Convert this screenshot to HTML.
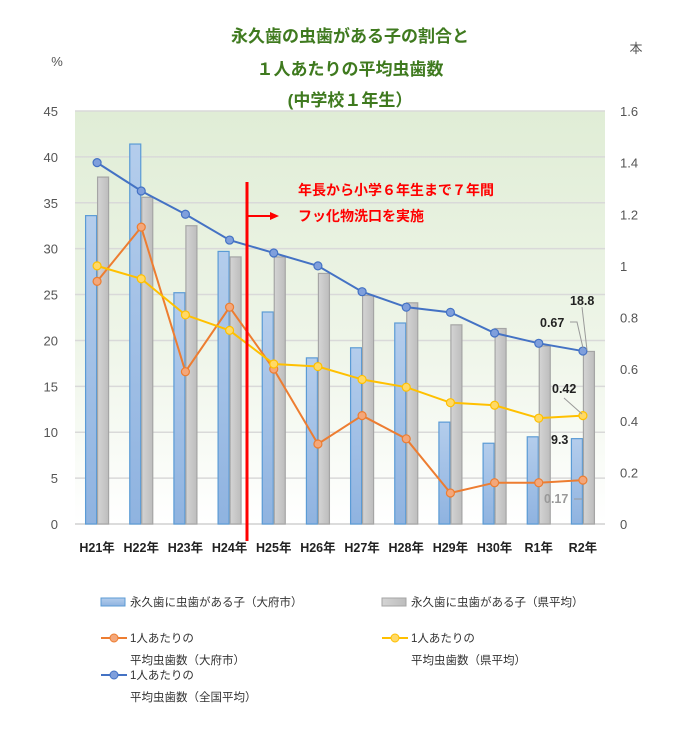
<!DOCTYPE html>
<html><head><meta charset="utf-8">
<style>
body{margin:0;background:#fff;}
svg text{font-family:"Liberation Sans","Noto Sans CJK JP",sans-serif;}
</style></head>
<body>
<svg id="chart" width="690" height="750" xmlns="http://www.w3.org/2000/svg">
<defs>
<linearGradient id="bg" x1="0" y1="0" x2="0" y2="1">
<stop offset="0" stop-color="#e0edd6"/><stop offset="0.55" stop-color="#eef5e8"/><stop offset="1" stop-color="#ffffff"/>
</linearGradient>
<linearGradient id="gb" x1="0" y1="0" x2="0" y2="1"><stop offset="0" stop-color="#b4cdec"/><stop offset="1" stop-color="#8fb3e0"/></linearGradient>
<linearGradient id="gg" x1="0" y1="0" x2="1" y2="0"><stop offset="0" stop-color="#d4d4d4"/><stop offset="1" stop-color="#bdbdbd"/></linearGradient>
</defs>
<rect x="75" y="111" width="530" height="413" fill="url(#bg)"/>
<g id="grid"></g>
<g id="bars"></g>
<g id="lines"></g>
<g id="axes"></g>
<text x="350" y="42" text-anchor="middle" font-size="17" font-weight="bold" fill="#3f7a1f">永久歯の虫歯がある子の割合と</text>
<text x="350" y="75" text-anchor="middle" font-size="17" font-weight="bold" fill="#3f7a1f">１人あたりの平均虫歯数</text>
<text x="350" y="106" text-anchor="middle" font-size="17" font-weight="bold" fill="#3f7a1f">(中学校１年生）</text>
<text x="57" y="66" text-anchor="middle" font-size="13" fill="#555">%</text>
<text x="636" y="53" text-anchor="middle" font-size="13" fill="#555">本</text>
<line x1="247" y1="182" x2="247" y2="541" stroke="#ff0000" stroke-width="3"/>
<line x1="248" y1="216" x2="272" y2="216" stroke="#ff0000" stroke-width="2"/>
<polygon points="279,216 270,212 270,220" fill="#ff0000"/>
<text x="298" y="195" font-size="14" font-weight="bold" fill="#ff0000">年長から小学６年生まで７年間</text>
<text x="298" y="221" font-size="14" font-weight="bold" fill="#ff0000">フッ化物洗口を実施</text>
<g id="labels"></g>
<g font-size="11.5" fill="#333">
<rect x="101" y="598" width="24" height="8" fill="url(#gb)" stroke="#5b9bd5"/>
<text x="130" y="606">永久歯に虫歯がある子（大府市）</text>
<rect x="382" y="598" width="24" height="8" fill="url(#gg)" stroke="#a5a5a5"/>
<text x="411" y="606">永久歯に虫歯がある子（県平均）</text>
<line x1="101" y1="638" x2="127" y2="638" stroke="#ed7d31" stroke-width="2"/><circle cx="114" cy="638" r="4" fill="#f4a77a" stroke="#ed7d31"/>
<text x="130" y="642">1人あたりの</text>
<text x="130" y="664">平均虫歯数（大府市）</text>
<line x1="382" y1="638" x2="408" y2="638" stroke="#ffc000" stroke-width="2"/><circle cx="395" cy="638" r="4" fill="#ffd966" stroke="#ffc000"/>
<text x="411" y="642">1人あたりの</text>
<text x="411" y="664">平均虫歯数（県平均）</text>
<line x1="101" y1="675" x2="127" y2="675" stroke="#4472c4" stroke-width="2"/><circle cx="114" cy="675" r="4" fill="#7f9fdc" stroke="#4472c4"/>
<text x="130" y="679">1人あたりの</text>
<text x="130" y="701">平均虫歯数（全国平均）</text>
</g>
</svg>
<script>
const categories=["H21年","H22年","H23年","H24年","H25年","H26年","H27年","H28年","H29年","H30年","R1年","R2年"];
const barObu=[33.6,41.4,25.2,29.7,23.1,18.1,19.2,21.9,11.1,8.8,9.5,9.3];
const barPref=[37.8,35.6,32.5,29.1,29.1,27.3,24.9,24.1,21.7,21.3,19.4,18.8];
const lineObu=[0.94,1.15,0.59,0.84,0.60,0.31,0.42,0.33,0.12,0.16,0.16,0.17];
const linePref=[1.00,0.95,0.81,0.75,0.62,0.61,0.56,0.53,0.47,0.46,0.41,0.42];
const lineNational=[1.40,1.29,1.20,1.10,1.05,1.00,0.90,0.84,0.82,0.74,0.70,0.67];
const leftTicks=[0,5,10,15,20,25,30,35,40,45];
const rightTicks=["0","0.2","0.4","0.6","0.8","1","1.2","1.4","1.6"];
const NS="http://www.w3.org/2000/svg";
const X0=75,X1=605,Y0=524,Y1=111;
const band=(X1-X0)/categories.length;
function xc(i){return X0+band*(i+0.5);}
function yL(v){return Y0-(v/45)*(Y0-Y1);}
function yR(v){return Y0-(v/1.6)*(Y0-Y1);}
function mk(tag,attrs,parent){const e=document.createElementNS(NS,tag);for(const k in attrs)e.setAttribute(k,attrs[k]);parent.appendChild(e);return e;}
const grid=document.getElementById('grid'),axes=document.getElementById('axes'),bars=document.getElementById('bars'),lines=document.getElementById('lines'),labels=document.getElementById('labels');
leftTicks.forEach(t=>{
  const g=mk('line',{x1:X0,x2:X1,y1:yL(t),y2:yL(t),stroke:t===0?'#d0d0d0':'#d9d9d9','stroke-width':1.5},grid);
  
  
  const tx=mk('text',{x:58,y:yL(t)+5,'text-anchor':'end','font-size':13,fill:'#555'},axes);
  tx.textContent=t;
  
  
});
rightTicks.forEach(t=>{
  const tx=mk('text',{x:620,y:yR(parseFloat(t))+5,'font-size':13,fill:'#555'},axes);
  tx.textContent=t;
  
  
});
categories.forEach((c,i)=>{
  const tx=mk('text',{x:xc(i),y:552,'text-anchor':'middle','font-size':12.5,'font-weight':'bold',fill:'#222'},axes);
  tx.textContent=c;
  
  
  const w=11;
  const b1=mk('rect',{x:xc(i)-w-0.5,y:yL(barObu[i]),width:w,height:Y0-yL(barObu[i]),fill:'url(#gb)',stroke:'#5b9bd5','stroke-width':1.2},bars);
  
  
  const b2=mk('rect',{x:xc(i)+0.5,y:yL(barPref[i]),width:w,height:Y0-yL(barPref[i]),fill:'url(#gg)',stroke:'#a5a5a5','stroke-width':1.2},bars);
  
  
});
function drawLine(vals,stroke,fill,name){
  const pts=vals.map((v,i)=>xc(i)+','+yR(v)).join(' ');
  const pl=mk('polyline',{points:pts,fill:'none',stroke:stroke,'stroke-width':2},lines);
  
  
  vals.forEach((v,i)=>{
    const c=mk('circle',{cx:xc(i),cy:yR(v),r:4,fill:fill,stroke:stroke,'stroke-width':1.2},lines);
    
    
  });
}
drawLine(lineObu,'#ed7d31','#f4a77a','obu-avg');
drawLine(linePref,'#ffc000','#ffd966','pref-avg');
drawLine(lineNational,'#4472c4','#7f9fdc','national-avg');
const n=categories.length-1;
function lab(txt,x,y,color,name){const t=mk('text',{x:x,y:y,'font-size':12.5,fill:color,'font-weight':'bold'},labels);t.textContent=txt;}
lab(barPref[n],570,305,'#222','label-pref-r2');
lab(lineNational[n],540,327,'#222','label-national-r2');
lab(linePref[n],552,393,'#222','label-pref-avg-r2');
lab(barObu[n],551,444,'#222','label-obu-r2');
lab(lineObu[n],544,503,'#999','label-obu-avg-r2');
mk('polyline',{points:'570,322 577,322 583,348',fill:'none',stroke:'#999'},labels);
mk('line',{x1:582,y1:307,x2:587,y2:350,stroke:'#999'},labels);
mk('line',{x1:564,y1:398,x2:582,y2:414,stroke:'#999'},labels);
mk('line',{x1:574,y1:499,x2:582,y2:499,stroke:'#999'},labels);
</script>
</body></html>
